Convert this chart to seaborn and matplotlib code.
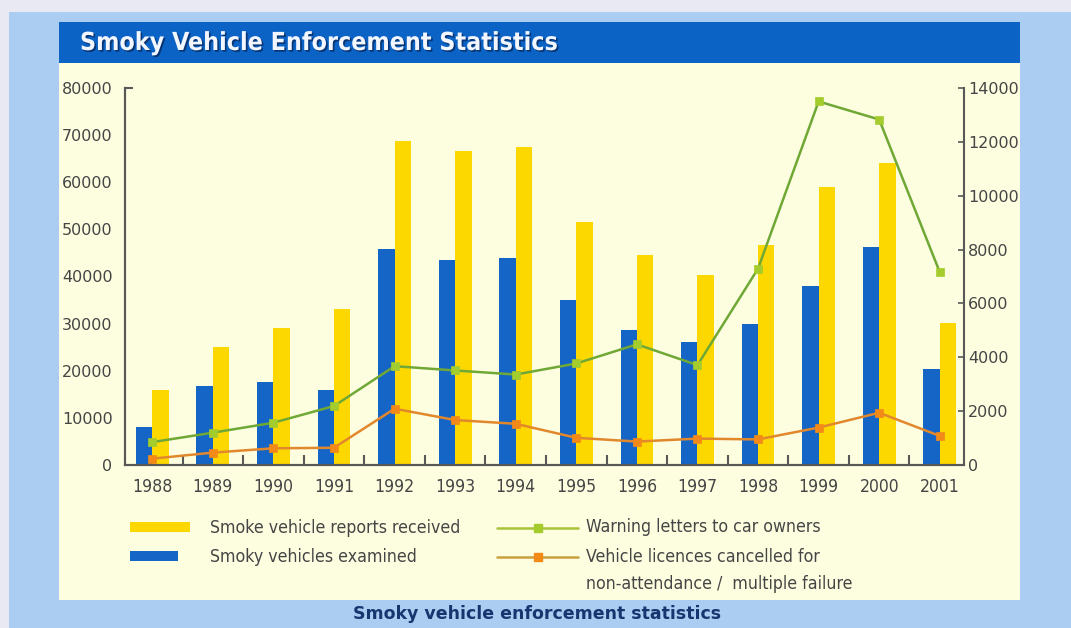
import matplotlib
matplotlib.use("Agg")
import matplotlib.pyplot as plt
import matplotlib.patheffects as pe
from matplotlib.lines import Line2D
from matplotlib.patches import Rectangle
import numpy as np
import pandas as pd
import seaborn as sns

years = ["1988", "1989", "1990", "1991", "1992", "1993", "1994",
         "1995", "1996", "1997", "1998", "1999", "2000", "2001"]
reports_received = [16000, 25000, 29000, 33000, 68800, 66600, 67400,
                    51500, 44500, 40400, 46600, 59000, 64000, 30200]
vehicles_examined = [8000, 16800, 17600, 16000, 45900, 43400, 44000,
                     35000, 28600, 26100, 30000, 38000, 46300, 20300]
warning_letters = [850, 1200, 1570, 2190, 3670, 3510, 3360,
                   3770, 4480, 3710, 7290, 13500, 12830, 7160]
licences_cancelled = [235, 460, 620, 640, 2090, 1670, 1530,
                      1010, 870, 980, 950, 1390, 1940, 1080]

label_reports = "Smoke vehicle reports received"
label_examined = "Smoky vehicles examined"
label_warning = "Warning letters to car owners"
label_cancelled = "Vehicle licences cancelled for\nnon-attendance /  multiple failure"

left_ticks = [0, 10000, 20000, 30000, 40000, 50000, 60000, 70000, 80000]
right_ticks = [0, 2000, 4000, 6000, 8000, 10000, 12000, 14000]

YELLOW = "#fcd800"
BLUE = "#1565c6"
GREEN_LINE = "#70a836"
GREEN_MARK = "#a4cc2c"
ORANGE_LINE = "#e2882c"
ORANGE_MARK = "#f38a18"
TEXT = "#454545"
SPINE = "#585858"
CREAM = "#fdfde0"
NARROW = dict(family=["Liberation Sans Narrow", "DejaVu Sans"], stretch="condensed")

sns.set_theme(style="white")
plt.rcParams["font.family"] = ["DejaVu Sans"]

W, H = 1071, 628
fig = plt.figure(figsize=(W / 100, H / 100), dpi=100)
fig.patch.set_facecolor("#e9e9f3")
renderer = fig.canvas.get_renderer()


def box(x0, y0, x1, y1):
    """Pixel box (top-left origin) -> figure-fraction rect args."""
    return (x0 / W, 1 - y1 / H), (x1 - x0) / W, (y1 - y0) / H


def pt(x, y):
    return x / W, 1 - y / H


def width_scale(text, target_px):
    """Factor that brings a text artist to the width it has in the reference."""
    return target_px / text.get_window_extent(renderer).width


# page background, cream panel and title banner
for (x0, y0, x1, y1), c in [((9, 12, 1071, 628), "#accdf2"),
                            ((59, 22, 1020, 600), CREAM),
                            ((59, 22, 1020, 63), "#0b63c5")]:
    xy, w, h = box(x0, y0, x1, y1)
    fig.patches.append(Rectangle(xy, w, h, transform=fig.transFigure,
                                 facecolor=c, edgecolor="none", zorder=-5))

title = fig.text(*pt(80, 43), "Smoky Vehicle Enforcement Statistics", color="#f2f6ff",
                 fontsize=21, fontweight="bold", va="center", ha="left", **NARROW,
                 path_effects=[pe.withSimplePatchShadow(offset=(1.2, -1.2),
                                                        shadow_rgbFace="#08306a", alpha=0.9)])
title.set_fontsize(21 * width_scale(title, 478))
fig.text(*pt(537, 614), "Smoky vehicle enforcement statistics", color="#16366f",
         fontsize=12.5, fontweight="bold", ha="center", va="center")

ax = fig.add_axes([125 / W, 1 - 465 / H, (964 - 125) / W, (465 - 88) / H])
ax.set_facecolor("none")

bars = pd.DataFrame({
    "year": years * 2,
    "count": vehicles_examined + reports_received,
    "series": [label_examined] * len(years) + [label_reports] * len(years),
})
sns.barplot(data=bars, x="year", y="count", hue="series",
            hue_order=[label_examined, label_reports], palette=[BLUE, YELLOW],
            width=0.54, saturation=1, linewidth=0, legend=False, ax=ax)

ax2 = ax.twinx()
lines = pd.DataFrame({"year": years, "warning": warning_letters,
                      "cancelled": licences_cancelled})
for col, lc, mc in [("warning", GREEN_LINE, GREEN_MARK), ("cancelled", ORANGE_LINE, ORANGE_MARK)]:
    sns.pointplot(data=lines, x="year", y=col, color=lc, markers="s",
                  markersize=6, markeredgewidth=0.5, linewidth=1.8, errorbar=None,
                  ax=ax2, markerfacecolor=mc, markeredgecolor=mc)

ax.set_xlim(-0.45, len(years) - 0.6)
ax.set_ylim(0, 80000)
ax2.set_ylim(0, 14000)
ax.set_yticks(left_ticks)
ax.set_yticklabels([str(v) for v in left_ticks])
ax2.set_yticks(right_ticks)
ax2.set_yticklabels([str(v) for v in right_ticks])
ax.set_xlabel("")
ax.set_ylabel("")
ax2.set_ylabel("")

for a in (ax, ax2):
    a.spines["top"].set_visible(False)
    for s in ("left", "right", "bottom"):
        a.spines[s].set_color(SPINE)
        a.spines[s].set_linewidth(1.5)
ax.spines["right"].set_visible(False)

ax.tick_params(axis="y", which="major", left=True, direction="in", length=0, width=1.5,
               color=SPINE, pad=9, labelsize=11.5, labelcolor=TEXT)
ax.yaxis.get_major_ticks()[-1].tick1line.set_markersize(6)
ax2.tick_params(axis="y", right=True, direction="in", length=4, width=1.2,
                color=SPINE, pad=3, labelsize=11.5, labelcolor=TEXT)
ax.set_xticks(np.arange(len(years) - 1) + 0.5, minor=True)
ax.tick_params(axis="x", which="major", bottom=True, length=0, pad=9, labelcolor=TEXT)
ax.tick_params(axis="x", which="minor", bottom=True, direction="in",
               length=7, width=1.5, color=SPINE)
year_labels = ax.get_xticklabels()
for lab in year_labels:
    lab.set_fontfamily(NARROW["family"])
    lab.set_fontstretch(NARROW["stretch"])
    lab.set_fontsize(15)
year_size = 15 * width_scale(year_labels[0], 40)
ax.tick_params(axis="x", which="major", labelsize=year_size)
ax.grid(False)
ax2.grid(False)

# legend below the chart
legend_font = dict(fontsize=13.5, color=TEXT, va="center", ha="left", **NARROW)
for (x0, y0, x1, y1), c in [((130, 522, 190, 532), YELLOW), ((130, 551, 178, 561), BLUE)]:
    xy, w, h = box(x0, y0, x1, y1)
    fig.patches.append(Rectangle(xy, w, h, transform=fig.transFigure,
                                 facecolor=c, edgecolor="none"))
for yy, lc, mc in [(528, "#a9c23c", GREEN_MARK), (557, "#c8a040", ORANGE_MARK)]:
    (xa, ya), (xb, _) = pt(497, yy), pt(578, yy)
    fig.lines.append(Line2D([xa, xb], [ya, ya], transform=fig.transFigure,
                            color=lc, linewidth=1.8))
    fig.lines.append(Line2D([(xa + xb) / 2], [ya], transform=fig.transFigure,
                            marker="s", markersize=6, color=mc, linestyle="none"))
legend_texts = [
    fig.text(*pt(210, 528), label_reports, **legend_font),
    fig.text(*pt(210, 557), label_examined, **legend_font),
    fig.text(*pt(586, 527), label_warning, **legend_font),
    fig.text(*pt(586, 557), label_cancelled.split("\n")[0], **legend_font),
    fig.text(*pt(586, 584), label_cancelled.split("\n")[1], **legend_font),
]
legend_size = 13.5 * width_scale(legend_texts[0], 250)
for t in legend_texts:
    t.set_fontsize(legend_size)

fig.savefig("out.png", dpi=100, facecolor=fig.get_facecolor())
